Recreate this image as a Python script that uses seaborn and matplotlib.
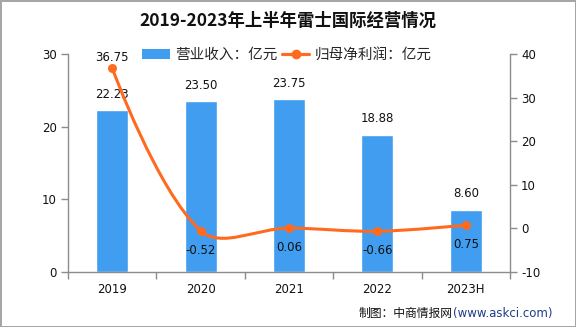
import numpy as np
import pandas as pd
import seaborn as sns
import matplotlib.pyplot as plt
from matplotlib.path import Path
from matplotlib.patches import PathPatch, Patch
from matplotlib.lines import Line2D

# ---- data ----
years = ["2019", "2020", "2021", "2022", "2023H"]
revenue = [22.23, 23.50, 23.75, 18.88, 8.60]
profit = [36.75, -0.52, 0.06, -0.66, 0.75]
left_ticks = [0, 10, 20, 30]
right_ticks = [-10, 0, 10, 20, 30, 40]
title = "2019-2023年上半年雷士国际经营情况"
legend_labels = ["营业收入：亿元", "归母净利润：亿元"]
source_cn = "制图：中商情报网"
source_url = "(www.askci.com)"

BLUE = "#409DF0"
ORANGE = "#FF6A1E"
GRAY = "#8C8C8C"

sns.set_theme(style="white")
plt.rcParams['font.family'] = ['Noto Sans CJK SC', 'DejaVu Sans']
plt.rcParams['axes.unicode_minus'] = False

W, H = 576, 327
fig = plt.figure(figsize=(W / 100, H / 100), dpi=100)
fig.patch.set_facecolor("white")
fig.patch.set_edgecolor("#A6A6A6")
fig.patch.set_linewidth(2)
ax = fig.add_axes([68 / W, 1 - 272 / H, 442 / W, 218 / H])

df = pd.DataFrame({"year": years, "revenue": revenue})
sns.barplot(data=df, x="year", y="revenue", ax=ax, color=BLUE,
            saturation=1, width=0.36, zorder=2)
ax.set_xlim(-0.5, len(years) - 0.5)
ax.set_ylim(left_ticks[0], left_ticks[-1])
ax.set_yticks(left_ticks)
ax.set_xlabel("")
ax.set_ylabel("")

ax2 = ax.twinx()
ax2.set_ylim(right_ticks[0], right_ticks[-1])
ax2.set_yticks(right_ticks)

for a in (ax, ax2):
    for s in a.spines.values():
        s.set_visible(False)
ax.spines["left"].set_visible(True)
ax.spines["bottom"].set_visible(True)
ax2.spines["right"].set_visible(True)
for s in (ax.spines["left"], ax.spines["bottom"], ax2.spines["right"]):
    s.set_color(GRAY)
    s.set_linewidth(1)

ax.tick_params(axis="y", left=True, direction="out", length=5, width=1,
               color=GRAY, labelsize=8.5, pad=3, labelcolor="#111111")
ax2.tick_params(axis="y", right=True, direction="out", length=5, width=1,
                color=GRAY, labelsize=8.5, pad=3, labelcolor="#111111")
ax.set_xticks(np.arange(-0.5, len(years), 1), minor=True)
ax.tick_params(axis="x", which="minor", bottom=True, length=5, width=1, color=GRAY)
ax.tick_params(axis="x", which="major", bottom=False, length=0, pad=8,
               labelsize=8.5, labelcolor="#111111")
for lab in ax.get_xticklabels() + ax.get_yticklabels() + ax2.get_yticklabels():
    lab.set_family("DejaVu Sans")

# ---- smooth line (bezier through the data points) ----
xs = np.arange(len(years))
pts = ax2.transData.transform(np.column_stack([xs, profit]))
smooth = 0.36
n = len(pts)
cin, cout = [], []
for i in range(n):
    p = pts[i]
    if i == 0 or i == n - 1:
        cin.append(p)
        cout.append(p)
        continue
    prev, nxt = pts[i - 1], pts[i + 1]
    v = nxt - prev
    d0 = np.hypot(*(p - prev))
    d1 = np.hypot(*(nxt - p))
    r = d1 / (d0 + d1)
    cin.append(p - v * smooth * (1 - r))
    cout.append(p + v * smooth * r)
verts = [pts[0]]
codes = [Path.MOVETO]
for i in range(n - 1):
    verts += [cout[i], cin[i + 1], pts[i + 1]]
    codes += [Path.CURVE4] * 3
inv = ax2.transData.inverted()
verts = inv.transform(np.array(verts))
ax2.add_patch(PathPatch(Path(verts, codes), fill=False, edgecolor=ORANGE,
                        lw=2.2, zorder=3, capstyle="round", joinstyle="round"))
sns.scatterplot(x=xs, y=profit, ax=ax2, color=ORANGE, s=42,
                edgecolor=ORANGE, linewidth=0, zorder=4, legend=False)

# ---- value labels ----
for i, v in enumerate(revenue):
    ax.annotate(f"{v:.2f}", (i, v), xytext=(0, 11.5), textcoords="offset points",
                ha="center", va="center", fontsize=8.5, color="#111111",
                family="DejaVu Sans", zorder=5)
for i, v in enumerate(profit):
    off = 7.8 if v > 10 else -14.2
    ax2.annotate(f"{v:.2f}", (i, v), xytext=(0, off), textcoords="offset points",
                 ha="center", va="center", fontsize=8.5, color="#111111",
                 family="DejaVu Sans", zorder=5)

# ---- title & legend ----
fig.text(0.5, 1 - 21 / H, title, ha="center", va="center", fontsize=12.5,
         fontweight="bold", color="#111111")
handles = [Patch(facecolor=BLUE, edgecolor="none"),
           Line2D([], [], color=ORANGE, lw=2.3, marker="o", ms=6)]
fig.legend(handles, legend_labels, loc="center", bbox_to_anchor=(0.498, 1 - 55 / H),
           ncol=2, frameon=False, fontsize=10.5, handlelength=1.9, handletextpad=0.35,
           columnspacing=0.3, borderaxespad=0, borderpad=0)

# ---- source ----
fig.canvas.draw()
r = fig.canvas.get_renderer()
t_url = fig.text(552 / W, 1 - 313 / H, source_url, ha="right", va="center",
                 fontsize=8.5, color="#1F3C88", family="DejaVu Sans")
bb = t_url.get_window_extent(renderer=r)
fig.text(bb.x0 / W, 1 - 313 / H, source_cn, ha="right", va="center",
         fontsize=8.5, color="#111111")

fig.savefig("out.png", dpi=100, facecolor="white", edgecolor="#A6A6A6")
